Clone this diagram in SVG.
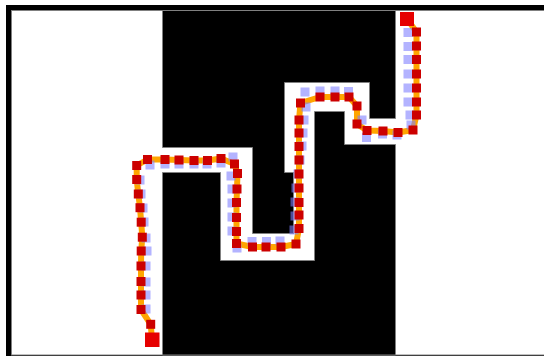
<svg xmlns="http://www.w3.org/2000/svg" width="544" height="356" viewBox="0 0 544 356">
<style>
.wall{fill:#000;stroke:#808080;stroke-width:1}
.r{fill:#cc0000}
.e{fill:#e60000}
.b{fill:#8080ff;opacity:0.6}
.ln{fill:none;stroke:#ffa500;stroke-width:6;stroke-linejoin:round;stroke-linecap:round}
</style>
<rect width="544" height="356" fill="#fff"/>
<g id="frame">
<rect x="6" y="5" width="538" height="351" fill="#000"/>
<rect x="11.5" y="10.5" width="540" height="344.5" fill="#fff" stroke="#808080" stroke-width="1"/>
</g>
<g id="walls">
<polygon class="wall" points="162.5,10.5 395.5,10.5 395.5,118.5 369.5,118.5 369.5,82.5 284.5,82.5 284.5,172.5 293.5,172.5 293.5,233.5 252.5,233.5 252.5,147.5 162.5,147.5"/>
<polygon class="wall" points="162.5,172.5 220.5,172.5 220.5,260.5 314.5,260.5 314.5,111.5 344.5,111.5 344.5,144.5 395.5,144.5 395.5,355 162.5,355"/>
</g>
<g id="connectors">
<polyline class="ln" points="407,19 416.5,32 416.5,46 416.5,59.5 416.5,74 416.5,88 416.5,102 416.5,115 413,130 398,132.5 383,131 367,130.5 357,124 357,106 349,97 335,97 320,97 300.5,103 299,120 299,133 299,146.5 299,160 299,174 299,188 299,202.5 299,215 299,228.5 296,244 281,247 266,247 252.5,247 236.5,243.5 236.5,231.5 236.5,217.5 236.5,202.5 237,189 237.5,173.5 234.5,164 221,158.5 207.5,160.5 194,160.5 179,160 165,159.5 147.5,159.5 136.7,165.5 136.7,179.5 138.3,194 140,207.7 141.2,222.2 142.3,237.2 141.2,251 141,266 141,281.5 141,295 141,309.5 150.7,324.3 152,339.5"/>
</g>
<g id="ghost">
<rect class="b" x="403.5" y="28" width="9" height="9"/>
<rect class="b" x="403.5" y="42" width="9" height="9"/>
<rect class="b" x="403.5" y="55" width="9" height="9"/>
<rect class="b" x="403.5" y="69.5" width="9" height="9"/>
<rect class="b" x="403.5" y="83.5" width="9" height="9"/>
<rect class="b" x="403.5" y="97.5" width="9" height="9"/>
<rect class="b" x="405.5" y="110.5" width="9" height="9"/>
<rect class="b" x="406.5" y="120.5" width="9" height="9"/>
<rect class="b" x="392.5" y="130.5" width="9" height="9"/>
<rect class="b" x="378" y="129.5" width="9" height="9"/>
<rect class="b" x="362" y="133" width="9" height="9"/>
<rect class="b" x="357.5" y="115.5" width="9" height="9"/>
<rect class="b" x="344" y="87" width="9" height="9"/>
<rect class="b" x="330.5" y="86.5" width="9" height="9"/>
<rect class="b" x="315.5" y="86.5" width="9" height="9"/>
<rect class="b" x="300.5" y="87.5" width="9" height="9"/>
<rect class="b" x="301.5" y="102.5" width="9" height="9"/>
<rect class="b" x="299.5" y="115.5" width="9" height="9"/>
<rect class="b" x="298.5" y="128.5" width="9" height="9"/>
<rect class="b" x="297.5" y="141.5" width="9" height="9"/>
<rect class="b" x="295.5" y="155.5" width="9" height="9"/>
<rect class="b" x="293.5" y="169.5" width="9" height="9"/>
<rect class="b" x="291.5" y="183.5" width="9" height="9"/>
<rect class="b" x="290.5" y="197.5" width="9" height="9"/>
<rect class="b" x="290.5" y="211.5" width="9" height="9"/>
<rect class="b" x="289.5" y="225.5" width="9" height="9"/>
<rect class="b" x="275.5" y="236.5" width="9" height="9"/>
<rect class="b" x="262" y="237" width="9" height="9"/>
<rect class="b" x="247.5" y="237" width="9" height="9"/>
<rect class="b" x="232.5" y="243.5" width="9" height="9"/>
<rect class="b" x="227.5" y="226.5" width="9" height="9"/>
<rect class="b" x="227.5" y="212.5" width="9" height="9"/>
<rect class="b" x="227.5" y="198.5" width="9" height="9"/>
<rect class="b" x="227.5" y="184.5" width="9" height="9"/>
<rect class="b" x="226.5" y="171.5" width="9" height="9"/>
<rect class="b" x="228.5" y="152.5" width="9" height="9"/>
<rect class="b" x="216.5" y="158.5" width="9" height="9"/>
<rect class="b" x="202.5" y="159.5" width="9" height="9"/>
<rect class="b" x="189.5" y="159.5" width="9" height="9"/>
<rect class="b" x="174.5" y="159.5" width="9" height="9"/>
<rect class="b" x="160.5" y="159.5" width="9" height="9"/>
<rect class="b" x="145.5" y="160.5" width="9" height="9"/>
<rect class="b" x="135.5" y="175.5" width="9" height="9"/>
<rect class="b" x="136.5" y="189.5" width="9" height="9"/>
<rect class="b" x="138.5" y="203.5" width="9" height="9"/>
<rect class="b" x="139.5" y="217.5" width="9" height="9"/>
<rect class="b" x="141.5" y="233.5" width="9" height="9"/>
<rect class="b" x="142.5" y="246.5" width="9" height="9"/>
<rect class="b" x="141.5" y="261.5" width="9" height="9"/>
<rect class="b" x="141.5" y="277.5" width="9" height="9"/>
<rect class="b" x="141.5" y="290.5" width="9" height="9"/>
<rect class="b" x="141.5" y="304.5" width="9" height="9"/>
</g>
<g id="nodes">
<rect class="r" x="412" y="27.5" width="9" height="9"/>
<rect class="r" x="412" y="41.5" width="9" height="9"/>
<rect class="r" x="412" y="55" width="9" height="9"/>
<rect class="r" x="412" y="69.5" width="9" height="9"/>
<rect class="r" x="412" y="83.5" width="9" height="9"/>
<rect class="r" x="412" y="97.5" width="9" height="9"/>
<rect class="r" x="412" y="110.5" width="9" height="9"/>
<rect class="r" x="408.5" y="125.5" width="9" height="9"/>
<rect class="r" x="393.5" y="128" width="9" height="9"/>
<rect class="r" x="378.5" y="126.5" width="9" height="9"/>
<rect class="r" x="362.5" y="126" width="9" height="9"/>
<rect class="r" x="352.5" y="119.5" width="9" height="9"/>
<rect class="r" x="352.5" y="101.5" width="9" height="9"/>
<rect class="r" x="344.5" y="92.5" width="9" height="9"/>
<rect class="r" x="330.5" y="92.5" width="9" height="9"/>
<rect class="r" x="315.5" y="92.5" width="9" height="9"/>
<rect class="r" x="296" y="98.5" width="9" height="9"/>
<rect class="r" x="294.5" y="115.5" width="9" height="9"/>
<rect class="r" x="294.5" y="128.5" width="9" height="9"/>
<rect class="r" x="294.5" y="142" width="9" height="9"/>
<rect class="r" x="294.5" y="155.5" width="9" height="9"/>
<rect class="r" x="294.5" y="169.5" width="9" height="9"/>
<rect class="r" x="294.5" y="183.5" width="9" height="9"/>
<rect class="r" x="294.5" y="198" width="9" height="9"/>
<rect class="r" x="294.5" y="210.5" width="9" height="9"/>
<rect class="r" x="294.5" y="224" width="9" height="9"/>
<rect class="r" x="291.5" y="239.5" width="9" height="9"/>
<rect class="r" x="276.5" y="242.5" width="9" height="9"/>
<rect class="r" x="261.5" y="242.5" width="9" height="9"/>
<rect class="r" x="248" y="242.5" width="9" height="9"/>
<rect class="r" x="232" y="239" width="9" height="9"/>
<rect class="r" x="232" y="227" width="9" height="9"/>
<rect class="r" x="232" y="213" width="9" height="9"/>
<rect class="r" x="232" y="198" width="9" height="9"/>
<rect class="r" x="232.5" y="184.5" width="9" height="9"/>
<rect class="r" x="233" y="169" width="9" height="9"/>
<rect class="r" x="230" y="159.5" width="9" height="9"/>
<rect class="r" x="216.5" y="154" width="9" height="9"/>
<rect class="r" x="203" y="156" width="9" height="9"/>
<rect class="r" x="189.5" y="156" width="9" height="9"/>
<rect class="r" x="174.5" y="155.5" width="9" height="9"/>
<rect class="r" x="160.5" y="155" width="9" height="9"/>
<rect class="r" x="143" y="155" width="9" height="9"/>
<rect class="r" x="132.2" y="161" width="9" height="9"/>
<rect class="r" x="132.2" y="175" width="9" height="9"/>
<rect class="r" x="133.8" y="189.5" width="9" height="9"/>
<rect class="r" x="135.5" y="203.2" width="9" height="9"/>
<rect class="r" x="136.7" y="217.7" width="9" height="9"/>
<rect class="r" x="137.8" y="232.7" width="9" height="9"/>
<rect class="r" x="136.7" y="246.5" width="9" height="9"/>
<rect class="r" x="136.5" y="261.5" width="9" height="9"/>
<rect class="r" x="136.5" y="277" width="9" height="9"/>
<rect class="r" x="136.5" y="290.5" width="9" height="9"/>
<rect class="r" x="136.5" y="305" width="9" height="9"/>
<rect class="r" x="146.2" y="319.8" width="9" height="9"/>
<rect id="start" class="e" x="400" y="12" width="14" height="14"/>
<rect id="goal" class="e" x="145" y="332.5" width="14.5" height="14.5"/>
</g>
</svg>
